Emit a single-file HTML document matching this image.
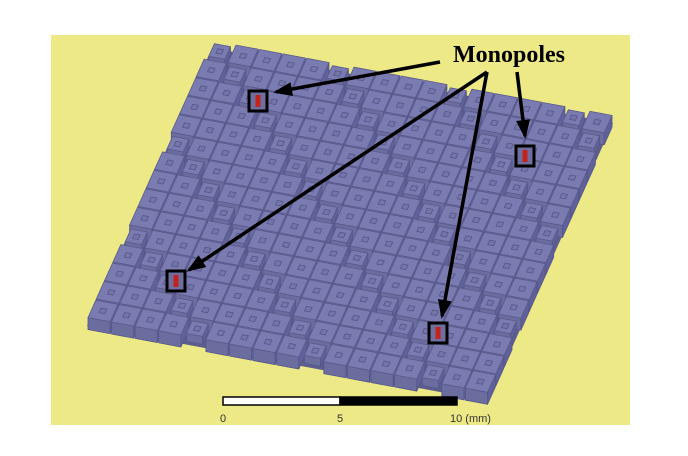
<!DOCTYPE html>
<html><head><meta charset="utf-8"><style>
html,body{margin:0;padding:0;background:#fff;}
svg{display:block;}
</style></head><body>
<svg id="s" width="688" height="456" viewBox="0 0 688 456" xmlns="http://www.w3.org/2000/svg">
<rect x="51" y="35" width="579" height="390" fill="#ede987"/>
<g id="grid"></g>
<g id="ann"></g>
<g>
<rect x="223" y="397" width="117" height="8" fill="#fff" stroke="#000" stroke-width="1.5"/>
<rect x="340" y="397" width="117" height="8" fill="#000" stroke="#000" stroke-width="1.5"/>
<text x="223" y="422" font-family="Liberation Sans, sans-serif" font-size="11" fill="#333" text-anchor="middle">0</text>
<text x="340" y="422" font-family="Liberation Sans, sans-serif" font-size="11" fill="#333" text-anchor="middle">5</text>
<text x="450" y="422" font-family="Liberation Sans, sans-serif" font-size="11" fill="#333">10 (mm)</text>
</g>
<text x="509" y="62" font-family="Liberation Serif, serif" font-weight="bold" font-size="24" fill="#000" text-anchor="middle">Monopoles</text>
</svg>
<script>
const NS='http://www.w3.org/2000/svg';
const TL=[212,40],TR=[613,115],BL=[87,318];
const NC=17,NR=15;
const du=[(TR[0]-TL[0])/NC,(TR[1]-TL[1])/NC],dv=[(BL[0]-TL[0])/NR,(BL[1]-TL[1])/NR];
function P(u,v){return [TL[0]+u*du[0]+v*dv[0],TL[1]+u*du[1]+v*dv[1]];}
function poly(pts,fill,stroke,parent){const p=document.createElementNS(NS,'polygon');p.setAttribute('points',pts.map(q=>q[0].toFixed(1)+','+q[1].toFixed(1)).join(' '));p.setAttribute('fill',fill);if(stroke){p.setAttribute('stroke',stroke);p.setAttribute('stroke-width','0.8');}parent.appendChild(p);return p;}
const g=document.getElementById('grid');
const base=poly([P(0,0),P(NC,0),P(NC,NR),P(0,NR)].map(q=>[q[0],q[1]+8]),'#5d5e8c',null,g);


for(let v=0;v<NR;v++){for(let u=0;u<NC;u++){
  const big=((u*7+v*3)%5)!==0;
  const ins=big?0.03:0.16,h=big?12:8;
  const a=P(u+ins,v+ins),b=P(u+1-ins,v+ins),c=P(u+1-ins,v+1-ins),d=P(u+ins,v+1-ins);
  const cube=document.createElementNS(NS,'g');
  
  
  poly([d,c,[c[0],c[1]+h],[d[0],d[1]+h]],'#6c6d9f','#55568a',cube);
  poly([b,c,[c[0],c[1]+h],[b[0],b[1]+h]],'#60619a','#55568a',cube);
  poly([a,b,c,d],'#7a7bb0','#5a5b8c',cube);
  poly([P(u+0.38,v+0.38),P(u+0.62,v+0.38),P(u+0.62,v+0.62),P(u+0.38,v+0.62)],'#7475a9','#55568a',cube);
  g.appendChild(cube);
}}
const ann=document.getElementById('ann');
function line(x1,y1,x2,y2,name){
  const l=document.createElementNS(NS,'line');
  l.setAttribute('x1',x1);l.setAttribute('y1',y1);l.setAttribute('x2',x2);l.setAttribute('y2',y2);
  l.setAttribute('stroke','#000');l.setAttribute('stroke-width','3.5');
  
  
  ann.appendChild(l);
  const ang=Math.atan2(y2-y1,x2-x1),L=16,W=7;
  const bx=x2-L*Math.cos(ang),by=y2-L*Math.sin(ang);
  poly([[x2+3*Math.cos(ang),y2+3*Math.sin(ang)],[bx-W*Math.sin(ang),by+W*Math.cos(ang)],[bx+W*Math.sin(ang),by-W*Math.cos(ang)]],'#000',null,ann);
}
line(440,62,276,92,'arrow-to-monopole-1');
line(487,72,189,270,'arrow-to-monopole-3');
line(487,72,442,316,'arrow-to-monopole-4');
line(517,72,525,136,'arrow-to-monopole-2');
function box(x,y,name){
  const r=document.createElementNS(NS,'rect');
  r.setAttribute('x',x-9);r.setAttribute('y',y-10);r.setAttribute('width',18);r.setAttribute('height',20);
  r.setAttribute('fill','#6e6f9f');r.setAttribute('stroke','#000');r.setAttribute('stroke-width','3');
  
  
  ann.appendChild(r);
  const c=document.createElementNS(NS,'rect');
  c.setAttribute('x',x-2.5);c.setAttribute('y',y-6);c.setAttribute('width',5);c.setAttribute('height',12);c.setAttribute('fill','#c0241c');
  
  
  ann.appendChild(c);
}
box(258,101,'monopole-box-1');
box(525,156,'monopole-box-2');
box(176,281,'monopole-box-3');
box(438,333,'monopole-box-4');
</script>
</body></html>
